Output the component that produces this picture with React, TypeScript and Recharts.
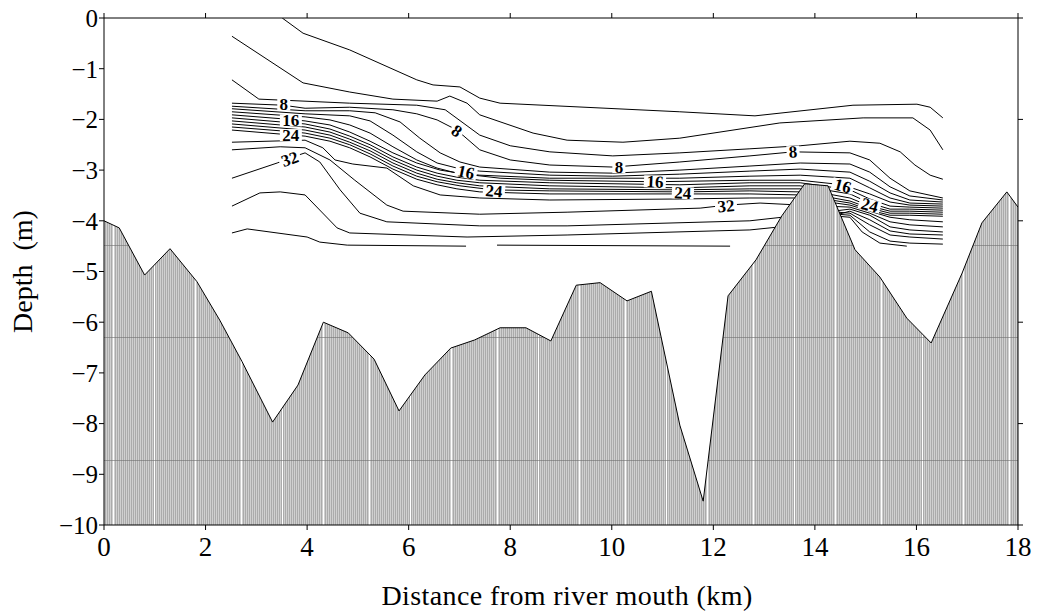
import React from 'react';
import { ComposedChart, Line, Area, Scatter, XAxis, YAxis } from 'recharts';

type Pt = [number, number];

// River-bed profile: distance from mouth (km), depth (m)
const bedProfile: Pt[] = [
  [0, -4.0], [0.3, -4.14], [0.8, -5.07], [1.3, -4.55], [1.83, -5.2], [2.28, -5.96],
  [2.72, -6.78], [3.32, -7.97], [3.82, -7.24], [4.32, -6.0], [4.81, -6.21], [5.32, -6.73],
  [5.81, -7.75], [6.32, -7.04], [6.83, -6.51], [7.3, -6.35], [7.8, -6.11], [8.31, -6.11],
  [8.8, -6.37], [9.3, -5.27], [9.77, -5.22], [10.3, -5.58], [10.78, -5.39], [11.34, -8.03],
  [11.8, -9.53], [12.29, -5.48], [12.84, -4.77], [13.35, -3.9], [13.8, -3.27], [14.26, -3.31],
  [14.79, -4.57], [15.28, -5.11], [15.81, -5.92], [16.29, -6.41], [16.9, -5.03], [17.29, -4.04],
  [17.78, -3.43], [18, -3.73],
];

// Salinity isolines (distance km, depth m), from the surface downwards
const iso01: Pt[] = [[3.51, 0], [3.92, -0.3], [4.84, -0.63], [6.16, -1.22], [6.48, -1.32], [7.01, -1.36], [7.4, -1.58], [7.8, -1.68], [11.34, -1.85], [12.82, -1.93], [14.75, -1.72], [16.01, -1.7], [16.27, -1.76], [16.52, -1.97]];
const iso02: Pt[] = [[2.52, -0.36], [3.92, -1.28], [4.84, -1.46], [5.69, -1.6], [6.56, -1.64], [6.81, -1.54], [7.15, -1.68], [7.4, -1.91], [8.45, -2.27], [9.12, -2.41], [10.22, -2.45], [11.34, -2.37], [13.31, -2.07], [14.95, -1.97], [15.93, -1.97], [16.27, -2.21], [16.52, -2.6]];
const iso03: Pt[] = [[2.52, -1.22], [3.05, -1.6], [4.84, -1.68], [6.16, -1.72], [6.72, -1.81], [7.4, -2.31], [8.0, -2.52], [8.78, -2.64], [10.02, -2.72], [11.34, -2.66], [12.72, -2.58], [13.71, -2.52], [14.69, -2.43], [15.28, -2.47], [15.68, -2.64], [15.97, -2.9], [16.27, -3.1], [16.52, -3.18]];
const iso04: Pt[] = [[2.52, -1.68], [3.53, -1.72], [3.96, -1.78], [4.84, -1.76], [5.69, -1.81], [6.16, -1.89], [6.56, -2.01], [6.95, -2.21], [7.4, -2.6], [8.0, -2.8], [8.78, -2.9], [10.02, -2.94], [11.34, -2.84], [12.72, -2.72], [13.57, -2.64], [14.69, -2.66], [15.08, -2.8], [15.48, -3.16], [15.87, -3.41], [16.52, -3.55]];
const iso05: Pt[] = [[2.52, -1.74], [3.96, -1.83], [4.84, -1.83], [5.34, -1.87], [5.83, -2.05], [6.22, -2.37], [6.62, -2.66], [7.01, -2.84], [7.4, -2.94], [8.78, -3.04], [10.02, -3.06], [11.34, -3.0], [12.72, -2.92], [13.71, -2.86], [14.69, -2.88], [15.08, -3.04], [15.48, -3.33], [15.87, -3.51], [16.52, -3.59]];
const iso06: Pt[] = [[2.52, -1.79], [3.96, -1.89], [4.84, -1.93], [5.24, -2.03], [5.69, -2.31], [6.16, -2.64], [6.56, -2.86], [6.95, -2.96], [7.4, -3.02], [8.78, -3.1], [10.02, -3.12], [11.34, -3.08], [12.72, -3.02], [13.71, -2.98], [14.69, -3.04], [15.08, -3.22], [15.48, -3.45], [15.87, -3.59], [16.52, -3.63]];
const iso07: Pt[] = [[2.52, -1.85], [3.96, -1.95], [4.45, -2.01], [4.84, -2.11], [5.24, -2.27], [5.69, -2.54], [6.16, -2.8], [6.56, -2.96], [6.95, -3.06], [7.4, -3.1], [8.78, -3.16], [11.34, -3.16], [12.72, -3.12], [13.71, -3.1], [14.69, -3.16], [15.08, -3.35], [15.48, -3.55], [15.87, -3.65], [16.52, -3.67]];
const iso08: Pt[] = [[2.52, -1.91], [3.53, -1.99], [3.96, -2.03], [4.45, -2.11], [4.84, -2.25], [5.24, -2.43], [5.69, -2.66], [6.16, -2.86], [6.62, -3.0], [7.11, -3.08], [7.8, -3.16], [8.78, -3.2], [10.85, -3.23], [12.72, -3.2], [13.71, -3.2], [14.55, -3.29], [15.08, -3.47], [15.48, -3.63], [15.87, -3.69], [16.52, -3.71]];
const iso09: Pt[] = [[2.52, -1.97], [3.96, -2.09], [4.45, -2.19], [4.84, -2.33], [5.24, -2.5], [5.69, -2.74], [6.16, -2.94], [6.56, -3.06], [6.95, -3.14], [7.4, -3.2], [8.78, -3.25], [11.34, -3.29], [12.72, -3.25], [13.71, -3.25], [14.69, -3.39], [15.08, -3.57], [15.48, -3.71], [15.87, -3.73], [16.52, -3.75]];
const iso10: Pt[] = [[2.52, -2.03], [3.96, -2.15], [4.45, -2.25], [4.84, -2.39], [5.24, -2.56], [5.69, -2.8], [6.16, -3.0], [6.56, -3.12], [6.95, -3.2], [7.4, -3.25], [8.78, -3.31], [11.34, -3.35], [12.72, -3.31], [13.71, -3.31], [14.69, -3.47], [15.08, -3.65], [15.48, -3.77], [15.87, -3.77], [16.52, -3.79]];
const iso11: Pt[] = [[2.52, -2.09], [3.96, -2.21], [4.45, -2.31], [4.84, -2.45], [5.24, -2.62], [5.69, -2.86], [6.16, -3.06], [6.56, -3.18], [6.95, -3.25], [7.4, -3.31], [8.78, -3.37], [11.34, -3.39], [12.72, -3.37], [13.71, -3.37], [14.69, -3.55], [15.08, -3.71], [15.48, -3.81], [15.87, -3.81], [16.52, -3.83]];
const iso12: Pt[] = [[2.52, -2.15], [3.53, -2.23], [3.96, -2.27], [4.45, -2.37], [4.84, -2.5], [5.24, -2.68], [5.69, -2.92], [6.16, -3.12], [6.56, -3.23], [7.01, -3.31], [7.66, -3.39], [8.78, -3.41], [11.4, -3.43], [12.72, -3.41], [13.71, -3.43], [14.69, -3.61], [15.08, -3.75], [15.48, -3.85], [15.87, -3.85], [16.52, -3.87]];
const iso13: Pt[] = [[2.52, -2.21], [3.96, -2.33], [4.45, -2.43], [4.84, -2.56], [5.24, -2.74], [5.69, -2.98], [6.16, -3.18], [6.56, -3.29], [6.95, -3.37], [7.4, -3.43], [8.78, -3.47], [11.34, -3.47], [12.72, -3.47], [13.71, -3.49], [14.69, -3.65], [15.08, -3.79], [15.48, -3.89], [15.87, -3.89], [16.52, -3.91]];
const iso14: Pt[] = [[2.52, -2.45], [3.96, -2.41], [4.31, -2.56], [4.55, -2.8], [4.9, -2.88], [5.57, -2.96], [6.09, -3.31], [6.62, -3.49], [7.4, -3.55], [8.78, -3.59], [11.34, -3.57], [12.72, -3.55], [13.71, -3.55], [14.69, -3.69], [15.08, -3.81], [15.48, -3.93], [15.87, -3.98], [16.52, -4.02]];
const iso15: Pt[] = [[2.52, -2.6], [3.47, -2.54], [3.96, -2.56], [4.45, -2.8], [4.94, -3.2], [5.57, -3.69], [5.89, -3.81], [7.4, -3.87], [9.12, -3.83], [11.74, -3.75], [12.27, -3.69], [12.92, -3.65], [13.71, -3.69], [14.69, -3.73], [15.08, -3.85], [15.48, -4.02], [15.87, -4.08], [16.52, -4.12]];
const iso16: Pt[] = [[2.52, -3.16], [3.41, -2.86], [3.66, -2.76], [3.96, -2.66], [4.25, -2.84], [4.65, -3.39], [5.04, -3.85], [5.57, -4.02], [7.4, -4.1], [9.12, -4.1], [12.72, -4.0], [13.71, -3.89], [14.69, -3.77], [15.08, -3.89], [15.48, -4.12], [15.87, -4.18], [16.52, -4.22]];
const iso17: Pt[] = [[2.52, -3.71], [3.07, -3.45], [3.47, -3.43], [3.96, -3.49], [4.59, -4.14], [4.84, -4.24], [7.15, -4.32], [9.12, -4.28], [12.72, -4.18], [13.71, -4.08], [14.69, -3.81], [15.08, -3.98], [15.48, -4.2], [15.87, -4.26], [16.52, -4.28]];
const iso18West: Pt[] = [[2.52, -4.24], [2.82, -4.16], [4.0, -4.32], [4.25, -4.42], [4.79, -4.48], [7.13, -4.5]];
const iso18East: Pt[] = [[7.74, -4.48], [12.33, -4.5]];
const isoLee1: Pt[] = [[14.45, -3.83], [14.69, -3.85], [15.08, -4.08], [15.48, -4.28], [15.87, -4.32], [16.52, -4.36]];
const isoLee2: Pt[] = [[14.45, -3.87], [14.69, -3.89], [15.08, -4.22], [15.48, -4.4], [15.87, -4.44], [16.52, -4.46]];
const isoLee3: Pt[] = [[14.45, -3.91], [14.69, -3.93], [14.93, -4.22], [15.28, -4.44], [15.81, -4.5]];

const isolines: Pt[][] = [
  iso01, iso02, iso03, iso04, iso05, iso06, iso07, iso08, iso09, iso10, iso11, iso12, iso13,
  iso14, iso15, iso16, iso17, iso18West, iso18East, isoLee1, isoLee2, isoLee3,
];

// Contour value tags: [distance km, depth m, text]
const tagPlaces: [number, number, string][] = [
  [3.54, -1.71, '8'], [3.68, -2.02, '16'], [3.68, -2.31, '24'], [3.66, -2.78, '32'],
  [6.95, -2.23, '8'], [7.13, -3.04, '16'], [7.68, -3.41, '24'],
  [10.14, -2.94, '8'], [10.85, -3.23, '16'], [11.4, -3.45, '24'], [12.25, -3.71, '32'],
  [13.57, -2.64, '8'], [14.55, -3.31, '16'], [15.08, -3.69, '24'],
];
const tagAngles: number[] = [0, 0, 0, -20, 35, 12, 5, 0, 3, 3, -5, -3, 15, 15];

const xTicks = [0, 2, 4, 6, 8, 10, 12, 14, 16, 18];
const yTicks = [0, -1, -2, -3, -4, -5, -6, -7, -8, -9, -10];
const yTicksRight = [0, -2, -4, -6, -8, -10];

const SERIF = '"Liberation Serif", "Times New Roman", serif';

const toRows = (pts: Pt[]) => pts.map(([x, y]) => ({ x, y }));
const tagRows = tagPlaces.map(([x, y, text], i) => ({ x, y, text, angle: tagAngles[i] }));

const depthLabel = (v: number) => (v < 0 ? `\u2212${Math.abs(v)}` : String(v));

const ContourTag = (props: any) => {
  const { cx, cy, payload } = props;
  if (cx == null || cy == null) return null;
  const w = payload.text.length * 9 + 4;
  return (
    <g transform={`translate(${cx},${cy}) rotate(${payload.angle})`}>
      <rect x={-w / 2} y={-6} width={w} height={12} fill="#ffffff" />
      <text x={0} y={0} dy="0.34em" textAnchor="middle" fontFamily={SERIF} fontWeight="bold" fontSize={17} fill="#000">
        {payload.text}
      </text>
    </g>
  );
};

const DepthTitle = (props: any) => {
  const vb = props.viewBox || { x: 0, y: 18, width: 104, height: 507 };
  return (
    <text
      transform={`translate(${vb.x + 22},${vb.y + vb.height / 2}) rotate(-90)`}
      textAnchor="middle"
      dominantBaseline="central"
      fontFamily={SERIF}
      fontSize={28}
      fill="#000"
      style={{ whiteSpace: 'pre' }}
    >
      {'Depth  (m)'}
    </text>
  );
};

const DistanceTitle = (props: any) => {
  const vb = props.viewBox || { x: 104, y: 525, width: 914, height: 90 };
  return (
    <text x={vb.x + vb.width / 2 + 6} y={vb.y + 80} textAnchor="middle" fontFamily={SERIF} fontSize={28} fill="#000" letterSpacing={0.4}>
      Distance from river mouth (km)
    </text>
  );
};

export default function App() {
  return (
    <div style={{ position: 'fixed', left: 0, top: 0, width: 1039, height: 615, background: '#fff' }}>
      <ComposedChart width={1039} height={615} margin={{ top: 13, right: 16, bottom: 0, left: 0 }}>
        <defs>
          <pattern id="bedHatch" patternUnits="userSpaceOnUse" x={0} y={0} width={2} height={2}>
            <rect x={0} y={0} width={2} height={2} fill="#d0d0d0" />
            <rect x={0} y={0} width={1} height={2} fill="#ababab" />
          </pattern>
          <pattern id="bedFill" patternUnits="userSpaceOnUse" x={113} y={0} width={128} height={615}>
            <rect x={0} y={0} width={128} height={615} fill="url(#bedHatch)" />
            <rect x={0} y={0} width={1} height={615} fill="#ffffff" />
            <rect x={41} y={0} width={1} height={615} fill="#ffffff" />
            <rect x={82} y={0} width={1} height={615} fill="#ffffff" />
            <rect x={0} y={245} width={128} height={1} fill="#707070" opacity={0.6} />
            <rect x={0} y={337} width={128} height={1} fill="#707070" opacity={0.6} />
            <rect x={0} y={460} width={128} height={1} fill="#707070" opacity={0.6} />
          </pattern>
        </defs>

        {isolines.map((pts, i) => (
          <Line
            key={`iso-${i}`}
            data={toRows(pts)}
            dataKey="y"
            type="linear"
            stroke="#000"
            strokeWidth={1}
            dot={false}
            activeDot={false}
            isAnimationActive={false}
            zIndex={400}
          />
        ))}

        <Scatter data={tagRows} dataKey="y" shape={ContourTag} isAnimationActive={false} zIndex={420} />

        <Area
          data={toRows(bedProfile)}
          dataKey="y"
          type="linear"
          baseValue="dataMin"
          stroke="#000"
          strokeWidth={1}
          fill="url(#bedFill)"
          fillOpacity={1}
          dot={false}
          activeDot={false}
          isAnimationActive={false}
          zIndex={450}
        />

        <XAxis
          dataKey="x"
          type="number"
          domain={[0, 18]}
          ticks={xTicks}
          allowDataOverflow
          height={90}
          tickSize={5}
          tickMargin={7}
          stroke="#000"
          tick={{ fill: '#000', fontFamily: SERIF, fontSize: 27 }}
          label={<DistanceTitle />}
        />
        <XAxis
          xAxisId="top"
          orientation="top"
          dataKey="x"
          type="number"
          domain={[0, 18]}
          ticks={xTicks}
          allowDataOverflow
          height={5}
          tickSize={5}
          stroke="#000"
          tickFormatter={() => ''}
        />
        <YAxis
          dataKey="y"
          type="number"
          domain={[-10, 0]}
          ticks={yTicks}
          allowDataOverflow
          width={104}
          tickSize={5}
          tickMargin={1}
          stroke="#000"
          tick={{ fill: '#000', fontFamily: SERIF, fontSize: 25 }}
          tickFormatter={depthLabel}
          label={<DepthTitle />}
        />
        <YAxis
          yAxisId="right"
          orientation="right"
          type="number"
          domain={[-10, 0]}
          ticks={yTicksRight}
          allowDataOverflow
          width={5}
          tickSize={5}
          stroke="#000"
          tickFormatter={() => ''}
        />
      </ComposedChart>
    </div>
  );
}
